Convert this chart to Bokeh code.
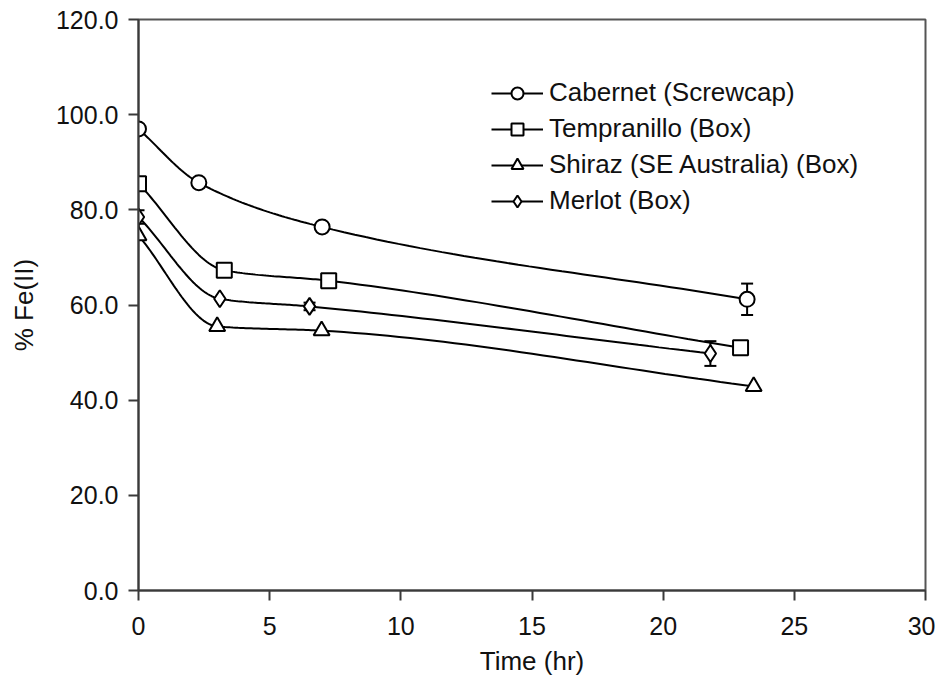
import numpy as np
from bokeh.plotting import figure
from bokeh.models import (ColumnDataSource, Legend, LegendItem, Whisker, TeeHead,
                          FixedTicker, CustomJSTickFormatter, Range1d)
from bokeh.embed import file_html
from bokeh.resources import INLINE

# ---- data ----
cab_t = [0.0, 2.3, 7.0, 23.2]
cab_v = [97.0, 85.7, 76.4, 61.2]
cab_e = [0.0, 0.0, 0.0, 3.3]

tem_t = [0.0, 3.27, 7.25, 22.95]
tem_v = [85.5, 67.3, 65.1, 51.0]
tem_e = [0.0, 0.0, 0.0, 0.0]

shi_t = [0.0, 3.0, 6.98, 23.45]
shi_v = [74.6, 55.5, 54.6, 42.9]
shi_e = [0.0, 0.0, 0.0, 0.0]

mer_t = [0.0, 3.1, 6.52, 21.8]
mer_v = [78.5, 61.3, 59.7, 49.8]
mer_e = [1.4, 0.0, 0.8, 2.6]

series_names = ["Cabernet (Screwcap)", "Tempranillo (Box)",
                "Shiraz (SE Australia) (Box)", "Merlot (Box)"]
markers = ["circle", "square", "triangle", "diamond"]
marker_sizes = [15, 15, 16, 17]

x_ticks = [0, 5, 10, 15, 20, 25, 30]
y_ticks = [0, 20, 40, 60, 80, 100, 120]

FONT = "Liberation Sans"


def pchip(x, y, n=40):
    """Monotone (Fritsch-Carlson) cubic curve through the data points, for a smooth line."""
    x = np.asarray(x, float)
    y = np.asarray(y, float)
    h = np.diff(x)
    d = np.diff(y) / h
    m = np.zeros_like(y)
    m[0], m[-1] = d[0], d[-1]
    for k in range(1, len(x) - 1):
        if d[k - 1] * d[k] <= 0:
            m[k] = 0.0
        else:
            w1 = 2 * h[k] + h[k - 1]
            w2 = h[k] + 2 * h[k - 1]
            m[k] = (w1 + w2) / (w1 / d[k - 1] + w2 / d[k])
    xs, ys = [], []
    for k in range(len(x) - 1):
        t = np.linspace(0, 1, n, endpoint=(k == len(x) - 2))
        h00 = 2 * t**3 - 3 * t**2 + 1
        h10 = t**3 - 2 * t**2 + t
        h01 = -2 * t**3 + 3 * t**2
        h11 = t**3 - t**2
        xs.append(x[k] + t * h[k])
        ys.append(h00 * y[k] + h10 * h[k] * m[k] + h01 * y[k + 1] + h11 * h[k] * m[k + 1])
    return np.concatenate(xs), np.concatenate(ys)


p = figure(width=935, height=678, output_backend="svg", toolbar_location=None,
           x_range=Range1d(0, 30), y_range=Range1d(0, 120),
           min_border_left=138, min_border_right=10, min_border_top=19,
           min_border_bottom=86)

p.xgrid.visible = False
p.ygrid.visible = False
p.outline_line_color = "#555555"
p.outline_line_width = 2
p.background_fill_color = "white"
p.border_fill_color = "white"

for ax in (p.xaxis[0], p.yaxis[0]):
    ax.axis_line_color = "#3a3a3a"
    ax.axis_line_width = 2
    ax.major_tick_line_color = "#3a3a3a"
    ax.major_tick_line_width = 2
    ax.major_tick_in = 0
    ax.major_tick_out = 10
    ax.minor_tick_line_color = None
    ax.major_label_text_font = FONT
    ax.major_label_text_font_size = "25px"
    ax.major_label_text_color = "#111111"
    ax.axis_label_text_font = FONT
    ax.axis_label_text_font_size = "26px"
    ax.axis_label_text_font_style = "normal"
    ax.axis_label_text_color = "#111111"

p.xaxis.ticker = FixedTicker(ticks=x_ticks)
p.yaxis.ticker = FixedTicker(ticks=y_ticks)
p.yaxis.formatter = CustomJSTickFormatter(code="return tick.toFixed(1);")
p.xaxis.axis_label = "Time (hr)"
p.yaxis.axis_label = "% Fe(II)"
p.xaxis.major_label_standoff = 16
p.xaxis.axis_label_standoff = 8
p.yaxis.major_label_standoff = 10
p.yaxis.axis_label_standoff = 14

all_series = [(cab_t, cab_v, cab_e), (tem_t, tem_v, tem_e),
              (shi_t, shi_v, shi_e), (mer_t, mer_v, mer_e)]

items = []
for (t, v, e), name, mk, ms in zip(all_series, series_names, markers, marker_sizes):
    cx, cy = pchip(t, v)
    lr = p.line(cx, cy, line_color="black", line_width=2)
    # error bars (only where an error was shown)
    ta = np.asarray(t); va = np.asarray(v); ea = np.asarray(e)
    sel = ea > 0
    if sel.any():
        src = ColumnDataSource(dict(x=ta[sel], lo=va[sel] - ea[sel], hi=va[sel] + ea[sel]))
        w = Whisker(source=src, base="x", lower="lo", upper="hi", level="underlay",
                    line_color="black", line_width=2,
                    upper_head=TeeHead(size=12, line_color="black", line_width=2),
                    lower_head=TeeHead(size=12, line_color="black", line_width=2))
        p.add_layout(w)
    mr = p.scatter(t, v, marker=mk, size=ms, fill_color="white",
                   line_color="black", line_width=2)
    items.append(LegendItem(label=name, renderers=[lr, mr]))

legend = Legend(items=items, location=(353, 374))
legend.glyph_width = 52
legend.glyph_height = 30
legend.label_height = 30
legend.spacing = 5
legend.padding = 10
legend.label_standoff = 6
legend.label_text_font = FONT
legend.label_text_font_size = "26px"
legend.label_text_color = "#111111"
legend.border_line_color = None
legend.background_fill_alpha = 0
p.add_layout(legend, "center")

open("out.html", "w").write(file_html(p, INLINE))
